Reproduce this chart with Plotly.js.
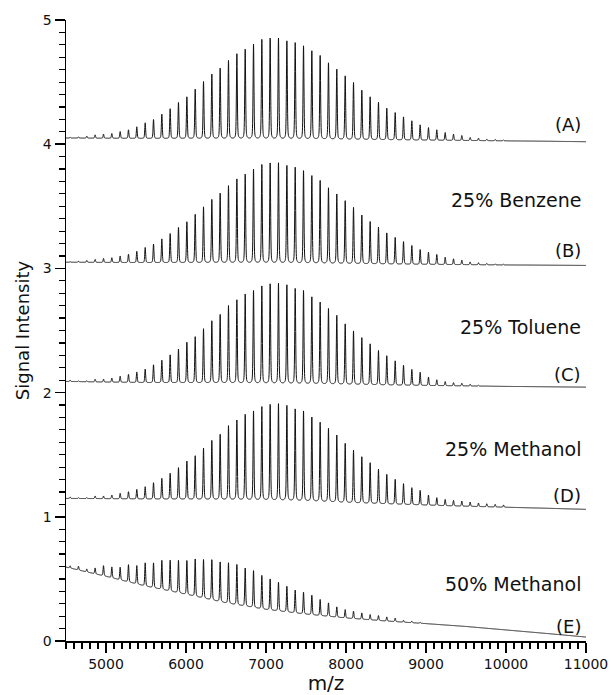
<!DOCTYPE html>
<html><head><meta charset="utf-8">
<script src="https://cdn.plot.ly/plotly-3.0.1.min.js"></script>
<style>html,body{margin:0;padding:0;background:#fff}#chart{width:611px;height:695px}</style>
</head><body><div id="chart"></div>
<script>
// Peak centres (m/z) of the charge-state series
const peakMz = [4552,4656,4760,4864,4969,5073,5177,5281,5385,5490,5594,5698,5802,5906,6011,6115,6219,6323,6427,6531,6636,6740,6844,6948,7052,7156,7261,7365,7469,7573,7677,7781,7885,7990,8094,8198,8302,8406,8510,8615,8719,8823,8927,9031,9135,9240,9344,9448,9552,9656,9760,9865,9969];

// Peak-top values (with the stacking offset) for each spectrum
const apexA = [4.056,4.059,4.065,4.075,4.081,4.086,4.102,4.116,4.140,4.172,4.199,4.242,4.285,4.336,4.382,4.444,4.503,4.565,4.613,4.672,4.726,4.766,4.806,4.841,4.855,4.855,4.833,4.815,4.793,4.753,4.712,4.656,4.605,4.551,4.495,4.435,4.382,4.336,4.290,4.255,4.220,4.188,4.156,4.134,4.116,4.094,4.081,4.070,4.054,4.048,4.040,4.038,4.035];
const apexB = [3.054,3.058,3.064,3.072,3.080,3.086,3.100,3.114,3.138,3.168,3.196,3.238,3.280,3.330,3.376,3.436,3.494,3.556,3.606,3.664,3.718,3.760,3.800,3.834,3.850,3.852,3.830,3.812,3.788,3.748,3.706,3.650,3.600,3.546,3.490,3.430,3.378,3.332,3.286,3.250,3.216,3.184,3.152,3.130,3.112,3.090,3.077,3.066,3.052,3.046,3.040,3.036,3.033];
const apexC = [2.100,2.095,2.095,2.107,2.108,2.117,2.132,2.146,2.166,2.189,2.224,2.261,2.303,2.351,2.406,2.451,2.513,2.579,2.630,2.699,2.745,2.795,2.823,2.856,2.877,2.883,2.869,2.836,2.823,2.772,2.726,2.678,2.623,2.554,2.495,2.443,2.393,2.338,2.297,2.256,2.220,2.186,2.164,2.125,2.103,2.089,2.080,2.075,2.067,2.059,2.053,2.048,2.043];
const apexD = [1.159,1.154,1.154,1.167,1.167,1.175,1.189,1.202,1.221,1.242,1.275,1.310,1.350,1.396,1.449,1.492,1.552,1.616,1.665,1.732,1.777,1.826,1.853,1.885,1.906,1.912,1.898,1.866,1.853,1.804,1.759,1.713,1.659,1.592,1.535,1.484,1.436,1.382,1.342,1.302,1.267,1.234,1.213,1.175,1.154,1.140,1.132,1.127,1.119,1.111,1.105,1.100,1.095];
const apexE = [0.605,0.602,0.580,0.588,0.607,0.596,0.594,0.615,0.607,0.629,0.629,0.650,0.650,0.650,0.648,0.661,0.655,0.655,0.637,0.629,0.615,0.588,0.567,0.527,0.500,0.473,0.441,0.409,0.393,0.369,0.334,0.307,0.275,0.253,0.240,0.226,0.213,0.205,0.194,0.184,0.166,0.160,0.150,0.137,0.133,0.128,0.123,0.119,0.114,0.108,0.101,0.095,0.089];

// Baselines read at these m/z
const baseMz = [4500,5000,5500,6000,6500,7000,7500,8000,8500,9000,9500,10000,10500,11000];
const baseA = [4.050,4.048,4.046,4.044,4.042,4.040,4.038,4.036,4.034,4.032,4.030,4.027,4.024,4.020];
const baseB = [3.050,3.048,3.046,3.044,3.042,3.040,3.038,3.036,3.034,3.032,3.030,3.028,3.026,3.024];
const baseC = [2.090,2.085,2.080,2.077,2.074,2.070,2.067,2.064,2.060,2.057,2.054,2.050,2.047,2.044];
const baseD = [1.148,1.146,1.143,1.140,1.136,1.131,1.124,1.112,1.103,1.094,1.085,1.077,1.069,1.060];
const baseE = [0.595,0.520,0.440,0.374,0.304,0.252,0.215,0.185,0.161,0.140,0.117,0.089,0.061,0.032];

const traceLabels = ['(A)','(B)','(C)','(D)','(E)'];
const traceLabelY = [4.155,3.145,2.145,1.170,0.114];
const solventLabels = ['25% Benzene','25% Toluene','25% Methanol','50% Methanol'];
const solventLabelY = [3.552,2.528,1.546,0.455];

function interp(xs, ys, x){
  if (x <= xs[0]) return ys[0];
  for (let i=1;i<xs.length;i++){
    if (x <= xs[i]){ const t=(x-xs[i-1])/(xs[i]-xs[i-1]); return ys[i-1]+t*(ys[i]-ys[i-1]); }
  }
  return ys[ys.length-1];
}
const FWHM = 13;
function spectrum(apex, base){
  const h = peakMz.map((m,i)=>Math.max(0, apex[i]-interp(baseMz, base, m)));
  const xs=[], ys=[];
  for (let m=4500; m<=11000; m+=1.5){
    let v = interp(baseMz, base, m);
    for (let i=0;i<peakMz.length;i++){
      const d=(m-peakMz[i])/FWHM;
      if (Math.abs(d) < 25) v += h[i]*(0.65*Math.exp(-4*Math.LN2*d*d) + 0.35/(1+4*d*d));
    }
    xs.push(m); ys.push(v);
  }
  return {xs, ys};
}
const sets = [[apexA,baseA],[apexB,baseB],[apexC,baseC],[apexD,baseD],[apexE,baseE]];
const data = sets.map(([a,b])=>{
  const s = spectrum(a,b);
  return {type:'scatter', mode:'lines', x:s.xs, y:s.ys, line:{color:'#111', width:1, simplify:false}, hoverinfo:'skip', cliponaxis:true};
});

const annotations = [];
traceLabels.forEach((t,i)=>annotations.push({xref:'x', yref:'y', x:10960, y:traceLabelY[i], text:t, showarrow:false, xanchor:'right', yanchor:'middle', font:{size:18, family:'DejaVu Sans', color:'#111'}}));
solventLabels.forEach((t,i)=>annotations.push({xref:'x', yref:'y', x:10960, y:solventLabelY[i], text:t, showarrow:false, xanchor:'right', yanchor:'middle', font:{size:19, family:'DejaVu Sans', color:'#111'}}));

const layout = {
  width:611, height:695, margin:{l:66, r:25, t:20, b:54},
  paper_bgcolor:'white', plot_bgcolor:'white', showlegend:false,
  font:{family:'DejaVu Sans', color:'#111'},
  xaxis:{range:[4500,11000], tickmode:'linear', tick0:0, dtick:1000, tickformat:'d',
    ticks:'outside', ticklen:10, tickwidth:1.5, tickcolor:'#000',
    minor:{tickmode:'linear', tick0:0, dtick:100, ticks:'outside', ticklen:6, tickwidth:1.2, tickcolor:'#000', showgrid:false},
    showline:true, linecolor:'#000', linewidth:1.5, showgrid:false, zeroline:false,
    tickfont:{size:14, family:'DejaVu Sans', color:'#111'},
    title:{text:'m/z', font:{size:20, family:'DejaVu Sans', color:'#111'}, standoff:2}},
  yaxis:{range:[0,5], tickmode:'linear', tick0:0, dtick:1, tickformat:'d',
    ticks:'outside', ticklen:10, tickwidth:1.5, tickcolor:'#000',
    minor:{tickmode:'linear', tick0:0, dtick:0.1, ticks:'outside', ticklen:6, tickwidth:1.2, tickcolor:'#000', showgrid:false},
    showline:true, linecolor:'#000', linewidth:1.5, showgrid:false, zeroline:false,
    tickfont:{size:14, family:'DejaVu Sans', color:'#111'},
    title:{text:'Signal Intensity', font:{size:18, family:'DejaVu Sans', color:'#111'}, standoff:8}},
  annotations
};
Plotly.newPlot('chart', data, layout, {staticPlot:true, displayModeBar:false});
</script></body></html>
